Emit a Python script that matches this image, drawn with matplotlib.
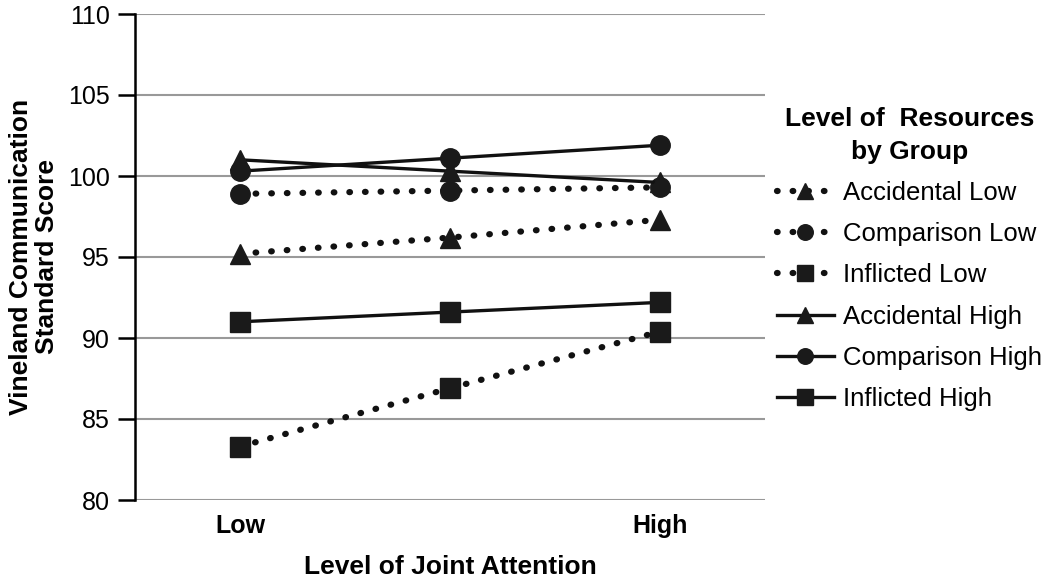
import numpy as np
import matplotlib.pyplot as plt

plt.rcParams['font.family'] = ['Liberation Sans', 'DejaVu Sans']

x_labels = ["Low", "", "High"]
x_pos = [0, 1, 2]

acc_low = [95.2, 96.2, 97.3]
comp_low = [98.9, 99.1, 99.3]
infl_low = [83.3, 86.9, 90.4]
acc_high = [101.0, 100.3, 99.6]
comp_high = [100.3, 101.1, 101.9]
infl_high = [91.0, 91.6, 92.2]

names = ["Accidental Low", "Comparison Low", "Inflicted Low",
         "Accidental High", "Comparison High", "Inflicted High"]
series = [acc_low, comp_low, infl_low, acc_high, comp_high, infl_high]
markers = ["^", "o", "s", "^", "o", "s"]
dotted = [True, True, True, False, False, False]

fig = plt.figure(figsize=(10.5, 5.81), dpi=100)
ax = fig.add_axes([135/1050, 1-500/581, 630/1050, 486/581])

for name, y, m, d in zip(names, series, markers, dotted):
    if d:
        ax.plot(x_pos, y, linestyle=(0, (0.1, 2.4)), lw=4.5, dash_capstyle='round',
                color='#111111', marker=m, ms=14, mfc='#1a1a1a', mec='#1a1a1a', label=name)
    else:
        ax.plot(x_pos, y, linestyle='-', lw=2.4, color='#111111',
                marker=m, ms=14, mfc='#1a1a1a', mec='#1a1a1a', label=name)

ax.set_xlim(-0.5, 2.5)
ax.set_ylim(80, 110)
ax.set_yticks(np.arange(80, 111, 5))
ax.set_xticks(x_pos)
ax.set_xticklabels(x_labels, fontsize=18, fontweight='bold')
ax.tick_params(axis='x', length=0, pad=10)
ax.tick_params(axis='y', labelsize=18, length=12, width=1.8, direction='out', pad=6)
ax.yaxis.grid(True, color='#999999', lw=1.5)
ax.set_axisbelow(True)
for s in ['top', 'right', 'bottom']:
    ax.spines[s].set_visible(False)
ax.spines['left'].set_linewidth(1.8)

ax.set_xlabel("Level of Joint Attention", fontsize=19, fontweight='bold')
ax.xaxis.set_label_coords(0.5, -0.113)
ax.set_ylabel("Vineland Communication\nStandard Score", fontsize=19, fontweight='bold',
              linespacing=1.15)
ax.yaxis.set_label_coords(-0.12, 0.5)

leg = fig.legend(loc='upper left', bbox_to_anchor=(754/1050, 1-84/581), frameon=False,
                 title="Level of  Resources\nby Group", fontsize=18.5, handlelength=2.2,
                 labelspacing=0.67, handletextpad=0.35, markerscale=0.8)
leg.get_title().set_fontweight('bold')
leg.get_title().set_fontsize(19)
leg.get_title().set_linespacing(1.45)
leg.get_title().set_multialignment('center')

fig.savefig("out.png", dpi=100)
